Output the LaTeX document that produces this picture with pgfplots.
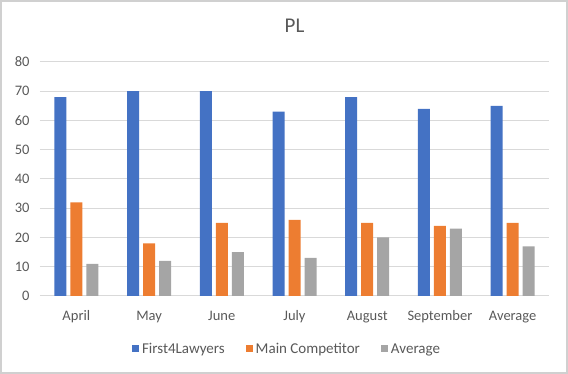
\documentclass[border=0pt]{standalone}
\usepackage{fontspec}
\setmainfont{Carlito}
\usepackage{pgfplots}
\pgfplotsset{compat=1.18}
\definecolor{cblue}{RGB}{68,114,196}
\definecolor{corange}{RGB}{237,125,49}
\definecolor{cgray}{RGB}{165,165,165}
\definecolor{gridc}{RGB}{217,217,217}
\definecolor{framec}{RGB}{208,208,208}
\definecolor{txt}{RGB}{89,89,89}
\begin{document}
\begin{tikzpicture}
\begin{axis}[
  clip=false,
  scale only axis, width=509pt, height=234pt,
  ymin=0, ymax=80, ytick={0,10,...,80},
  xmin=-0.5, xmax=6.5, xtick={0,...,6},
  xticklabels={April,May,June,July,August,September,Average},
  ybar=4pt, bar width=12pt,
  axis line style={draw=none},
  ymajorgrids, grid style={color=gridc, line width=1pt},
  tick style={draw=none},
  tick label style={font=\fontsize{14.5}{16}\selectfont, text=txt},
  /pgf/number format/assume math mode=true,
  yticklabel style={xshift=-7pt},
  xticklabel style={yshift=-7pt},
  title={PL},
  title style={font=\fontsize{21}{24}\selectfont, text=txt, at={(0.5,1)}, anchor=center, yshift=30pt},
  legend style={at={(0.5,0)}, anchor=center, yshift=-53pt, xshift=-8pt, draw=none, fill=none,
    legend columns=3, font=\fontsize{15}{16}\selectfont, text=txt,
    nodes={inner xsep=1pt},
    /tikz/column 2/.style={column sep=20pt},
    /tikz/column 4/.style={column sep=20pt}},
  legend image code/.code={\fill[#1] (0pt,-3.5pt) rectangle (7pt,3.5pt); \path (0pt,0pt) (9pt,0pt);},
]
\addplot[fill=cblue, draw=none] coordinates {(0,68) (1,70) (2,70) (3,63) (4,68) (5,64) (6,65)};
\addplot[fill=corange, draw=none] coordinates {(0,32) (1,18) (2,25) (3,26) (4,25) (5,24) (6,25)};
\addplot[fill=cgray, draw=none] coordinates {(0,11) (1,12) (2,15) (3,13) (4,20) (5,23) (6,17)};
\legend{First4Lawyers, Main Competitor, Average}
\draw[color=framec, line width=2pt] (rel axis cs:0,0) ++(-39pt,-77pt) rectangle ++(566pt,372pt);
\end{axis}
\end{tikzpicture}
\end{document}
